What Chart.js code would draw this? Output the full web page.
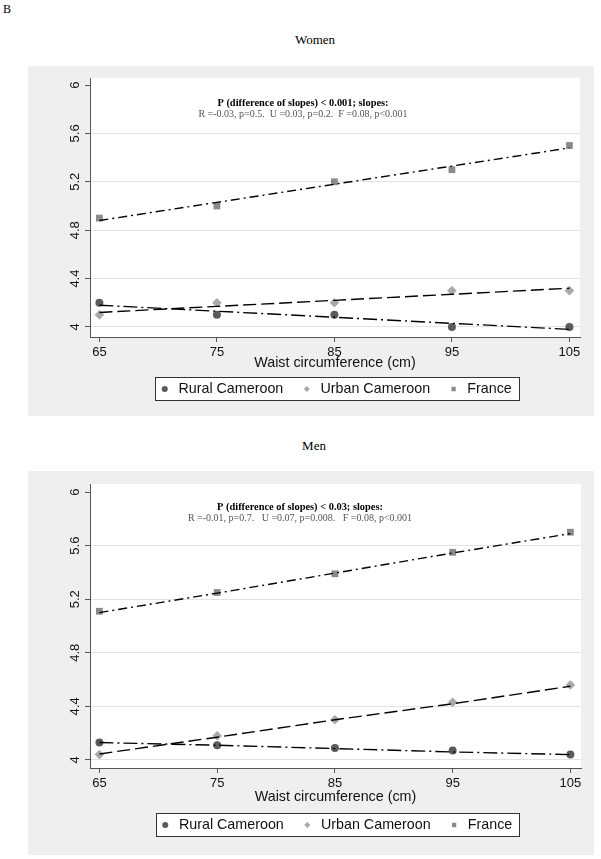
<!DOCTYPE html>
<html><head><meta charset="utf-8">
<script src="https://cdn.jsdelivr.net/npm/chart.js@4.4.1/dist/chart.umd.min.js"></script>
<style>
html,body{margin:0;padding:0;background:#fff;}
body{width:601px;height:859px;position:relative;overflow:hidden;}
.lbl{position:absolute;font-family:"Liberation Serif","Times New Roman",serif;color:#000;line-height:1;}
.panel{position:absolute;left:28px;width:566px;background:#efefef;}
canvas{display:block;}
</style></head><body>
<div class="lbl" style="left:3px;top:3px;font-size:12px;">B</div>
<div class="lbl" style="left:0;width:630px;text-align:center;top:33px;font-size:13px;">Women</div>
<div class="panel" style="top:66px;height:350px"><canvas id="cw" width="566" height="350"></canvas></div>
<div class="lbl" style="left:0;width:628px;text-align:center;top:439px;font-size:13px;">Men</div>
<div class="panel" style="top:471px;height:384px"><canvas id="cm" width="566" height="384"></canvas></div>
<script>
// ---- data ----
const waist = [65, 75, 85, 95, 105];
const xTicks = [65, 75, 85, 95, 105];
const yTicks = [4, 4.4, 4.8, 5.2, 5.6, 6];
const seriesNames = ['Rural Cameroon', 'Urban Cameroon', 'France'];
const xTitle = 'Waist circumference (cm)';

const womenRural = [4.20, 4.10, 4.10, 4.00, 4.00];
const womenUrban = [4.10, 4.20, 4.20, 4.30, 4.30];
const womenFrance = [4.90, 5.00, 5.20, 5.30, 5.50];
const womenRuralFit = [4.18, 4.13, 4.08, 4.03, 3.98];
const womenUrbanFit = [4.12, 4.17, 4.22, 4.27, 4.32];
const womenFranceFit = [4.88, 5.03, 5.18, 5.33, 5.48];
const womenNote = ['P (difference of slopes) < 0.001; slopes:', 'R =-0.03, p=0.5.  U =0.03, p=0.2.  F =0.08, p<0.001'];

const menRural = [4.13, 4.11, 4.09, 4.07, 4.04];
const menUrban = [4.04, 4.18, 4.30, 4.43, 4.56];
const menFrance = [5.11, 5.25, 5.39, 5.55, 5.70];
const menRuralFit = [4.13, 4.11, 4.085, 4.06, 4.04];
const menUrbanFit = [4.045, 4.17, 4.30, 4.42, 4.55];
const menFranceFit = [5.10, 5.245, 5.395, 5.545, 5.69];
const menNote = ['P (difference of slopes) < 0.03; slopes:', 'R =-0.01, p=0.7.   U =0.07, p=0.008.   F =0.08, p<0.001'];

// ---- helpers ----
const SANS = '"Liberation Sans", Arial, sans-serif';
const SERIF = '"Liberation Serif", "Times New Roman", serif';
const pts = ys => waist.map((x, i) => ({x: x, y: ys[i]}));

function fitDs(ys, dash) {
  return {label: '', data: pts(ys), showLine: true, borderColor: '#000', borderWidth: 1.4,
    borderDash: dash, pointRadius: 0, pointHoverRadius: 0, fill: false, tension: 0};
}
function markDs(name, ys, style, color, r) {
  return {label: name, data: pts(ys), showLine: false, pointStyle: style, pointRadius: r,
    pointBackgroundColor: color, backgroundColor: color, pointBorderColor: color, borderColor: color,
    pointBorderWidth: 0, borderWidth: 0};
}

function makeChart(id, s, L) {
  const deco = {
    id: 'deco' + id,
    beforeDraw(chart) {
      const c = chart.ctx, a = chart.chartArea;
      c.save();
      c.fillStyle = '#fff';
      c.fillRect(a.left, a.top, a.right - a.left, a.bottom - a.top);
      const lg = chart.legend;
      if (lg && lg.legendHitBoxes && lg.legendHitBoxes.length) {
        const hb = lg.legendHitBoxes;
        const first = hb[0], last = hb[hb.length - 1];
        const cy = first.top + first.height / 2;
        const l = Math.round(first.left - 3) + 0.5;
        const r = Math.round(last.left + last.width + 7) + 0.5;
        const t = Math.round(cy - 12) + 0.5, b = Math.round(cy + 11) + 0.5;
        c.fillStyle = '#fff';
        c.fillRect(l, t, r - l, b - t);
        c.strokeStyle = '#333';
        c.lineWidth = 1;
        c.strokeRect(l, t, r - l, b - t);
      }
      c.restore();
    },
    afterDraw(chart) {
      const c = chart.ctx;
      c.save();
      c.textAlign = 'center';
      c.textBaseline = 'middle';
      c.fillStyle = '#000';
      c.font = 'bold 10.4px ' + SERIF;
      c.fillText(s.note[0], L.noteX, L.noteY1);
      c.fillStyle = '#555';
      c.font = '10px ' + SERIF;
      c.fillText(s.note[1], L.noteX, L.noteY2);
      c.restore();
    }
  };
  return new Chart(document.getElementById(id), {
    type: 'scatter',
    data: {datasets: [
      fitDs(s.ruralFit, [14, 4, 2, 4]),
      fitDs(s.urbanFit, [13, 5]),
      fitDs(s.franceFit, [9, 4, 2, 4]),
      markDs(seriesNames[0], s.rural, 'circle', '#5b5b5b', 4),
      markDs(seriesNames[1], s.urban, 'rectRot', '#a9a9a9', 4.8),
      markDs(seriesNames[2], s.france, 'rect', '#8b8b8b', 4.8)
    ]},
    options: {
      responsive: false, animation: false, devicePixelRatio: 1,
      layout: {padding: {left: 0, right: L.padR, top: L.padT, bottom: L.padB}},
      plugins: {
        tooltip: {enabled: false},
        title: {display: false},
        legend: {
          position: 'bottom', fullSize: false,
          labels: {usePointStyle: true, boxWidth: 13, boxHeight: 4.3, padding: 17, color: '#111',
            font: {family: SANS, size: 14.3},
            filter: item => item.datasetIndex >= 3}
        }
      },
      scales: {
        x: {
          type: 'linear', min: 64.2, max: 105.9,
          afterBuildTicks: sc => { sc.ticks = xTicks.map(v => ({value: v})); },
          afterFit: sc => { sc.height = L.xh; },
          grid: {display: true, drawOnChartArea: false, drawTicks: true, tickLength: 5, tickColor: '#555'},
          border: {display: true, color: '#555', width: 1},
          ticks: {autoSkip: false, maxRotation: 0, padding: 3, color: '#111', font: {family: SANS, size: 13},
            callback: v => String(v)},
          title: {display: true, text: xTitle, color: '#111', font: {family: SANS, size: 14.3},
            padding: {top: 0, bottom: L.tpad}}
        },
        y: {
          type: 'linear', min: L.ymin, max: L.ymax,
          afterBuildTicks: sc => { sc.ticks = yTicks.map(v => ({value: v})); },
          afterFit: sc => { sc.width = 62; },
          grid: {display: true, drawTicks: true, tickLength: 5, tickColor: '#555', lineWidth: 1,
            color: ctx => (ctx.tick && ctx.tick.value === 6) ? 'rgba(0,0,0,0)' : '#e3e3e3'},
          border: {display: true, color: '#555', width: 1},
          ticks: {autoSkip: false, minRotation: 90, maxRotation: 90, crossAlign: 'center', padding: 1,
            color: '#111', font: {family: SANS, size: 13},
            callback: v => String(Math.round(v * 10) / 10)}
        }
      }
    },
    plugins: [deco]
  });
}

makeChart('cw', {rural: womenRural, urban: womenUrban, france: womenFrance,
  ruralFit: womenRuralFit, urbanFit: womenUrbanFit, franceFit: womenFranceFit, note: womenNote},
  {padR: 14, padT: 12, padB: 9.85, xh: 27.85, tpad: -7.03, ymin: 3.917, ymax: 6.058,
   noteX: 275, noteY1: 37, noteY2: 48});

makeChart('cm', {rural: menRural, urban: menUrban, france: menFrance,
  ruralFit: menRuralFit, urbanFit: menUrbanFit, franceFit: menFranceFit, note: menNote},
  {padR: 13, padT: 13, padB: 12.85, xh: 32.85, tpad: -5.03, ymin: 3.94, ymax: 6.06,
   noteX: 272, noteY1: 36, noteY2: 47});
</script>
</body></html>
